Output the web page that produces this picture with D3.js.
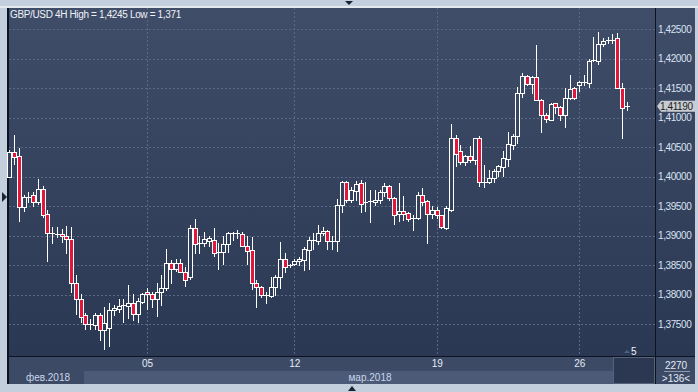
<!DOCTYPE html>
<html>
<head>
<meta charset="utf-8">
<script src="https://cdn.jsdelivr.net/npm/d3@7"></script>
<style>
  body { margin: 0; background: #c4cfdd; }
  svg { display: block; font-family: "Liberation Sans", Arial, sans-serif; }
</style>
</head>
<body>
<div id="chart"></div>
<script>
// GBP/USD 4H candles
const openP = [1.4000,1.4041,1.4035,1.3949,1.3965,1.3968,1.3956,1.3979,1.3936,1.3903,
  1.3903,1.3902,1.3900,1.3894,1.3819,1.3792,1.3765,1.3748,1.3748,1.3765,
  1.3739,1.3744,1.3773,1.3776,1.3780,1.3780,1.3786,1.3767,1.3788,1.3804,
  1.3801,1.3792,1.3805,1.3811,1.3853,1.3844,1.3853,1.3838,1.3829,1.3912,
  1.3886,1.3887,1.3891,1.3892,1.3870,1.3872,1.3886,1.3903,1.3903,1.3903,
  1.3883,1.3875,1.3820,1.3812,1.3798,1.3798,1.3812,1.3830,1.3861,1.3848,
  1.3851,1.3856,1.3859,1.3875,1.3892,1.3890,1.3905,1.3908,1.3890,1.3890,
  1.3952,1.3990,1.3960,1.3976,1.3989,1.3955,1.3956,1.3957,1.3960,1.3973,
  1.3984,1.3963,1.3936,1.3941,1.3938,1.3928,1.3930,1.3968,1.3959,1.3936,
  1.3943,1.3934,1.3913,1.3943,1.4066,1.4043,1.4024,1.4034,1.4028,1.4065,
  1.3990,1.3990,1.3997,1.4010,1.4016,1.4030,1.4053,1.4069,1.4141,1.4170,
  1.4157,1.4168,1.4130,1.4105,1.4096,1.4124,1.4117,1.4105,1.4133,1.4150,
  1.4155,1.4162,1.4159,1.4196,1.4196,1.4224,1.4231,1.4231,1.4234,1.4150,
  1.4117]
const highP = [1.4045,1.4070,1.4048,1.3969,1.3974,1.3974,1.3995,1.3984,1.3943,1.3914,
  1.3914,1.3911,1.3916,1.3914,1.3833,1.3801,1.3769,1.3758,1.3769,1.3769,
  1.3778,1.3786,1.3782,1.3792,1.3792,1.3816,1.3801,1.3794,1.3803,1.3811,
  1.3805,1.3820,1.3833,1.3877,1.3859,1.3860,1.3861,1.3846,1.3918,1.3928,
  1.3899,1.3906,1.3900,1.3912,1.3888,1.3900,1.3906,1.3906,1.3909,1.3906,
  1.3899,1.3898,1.3825,1.3814,1.3805,1.3830,1.3833,1.3889,1.3870,1.3852,
  1.3860,1.3863,1.3880,1.3897,1.3905,1.3918,1.3914,1.3909,1.3899,1.3962,
  1.3993,1.3993,1.3983,1.3992,1.3994,1.3991,1.3977,1.3977,1.3977,1.3989,
  1.3986,1.3966,1.3989,1.3967,1.3940,1.3934,1.3973,1.3981,1.3960,1.3950,
  1.3948,1.3935,1.3950,1.4089,1.4070,1.4053,1.4036,1.4051,1.4066,1.4068,
  1.4020,1.4011,1.4012,1.4020,1.4044,1.4075,1.4072,1.4152,1.4175,1.4172,
  1.4170,1.4223,1.4131,1.4108,1.4124,1.4125,1.4120,1.4150,1.4172,1.4151,
  1.4162,1.4172,1.4200,1.4236,1.4245,1.4234,1.4237,1.4241,1.4243,1.4158,
  1.4127]
const lowP = [1.3999,1.4022,1.3925,1.3942,1.3957,1.3950,1.3954,1.3932,1.3856,1.3888,
  1.3897,1.3889,1.3871,1.3805,1.3767,1.3754,1.3742,1.3741,1.3741,1.3723,
  1.3708,1.3713,1.3765,1.3771,1.3754,1.3760,1.3757,1.3754,1.3785,1.3775,
  1.3779,1.3764,1.3782,1.3808,1.3820,1.3840,1.3838,1.3815,1.3826,1.3871,
  1.3870,1.3882,1.3882,1.3866,1.3844,1.3851,1.3872,1.3892,1.3895,1.3882,
  1.3851,1.3810,1.3778,1.3796,1.3786,1.3795,1.3799,1.3811,1.3838,1.3846,
  1.3850,1.3850,1.3842,1.3843,1.3877,1.3886,1.3901,1.3877,1.3877,1.3873,
  1.3939,1.3957,1.3957,1.3961,1.3940,1.3942,1.3923,1.3952,1.3955,1.3967,
  1.3960,1.3920,1.3925,1.3926,1.3925,1.3909,1.3928,1.3952,1.3888,1.3929,
  1.3929,1.3913,1.3911,1.3942,1.4018,1.4021,1.4020,1.4025,1.4021,1.3984,
  1.3982,1.3989,1.3991,1.4001,1.4001,1.4017,1.4047,1.4056,1.4135,1.4155,
  1.4141,1.4129,1.4076,1.4093,1.4095,1.4108,1.4095,1.4084,1.4131,1.4131,
  1.4145,1.4155,1.4152,1.4195,1.4191,1.4221,1.4227,1.4226,1.4150,1.4066,
  1.4112]
const closeP = [1.4041,1.4033,1.3949,1.3965,1.3966,1.3956,1.3978,1.3935,1.3905,1.3905,
  1.3902,1.3900,1.3894,1.3819,1.3792,1.3762,1.3750,1.3750,1.3765,1.3739,
  1.3752,1.3774,1.3777,1.3780,1.3782,1.3786,1.3767,1.3789,1.3801,1.3801,
  1.3792,1.3805,1.3811,1.3853,1.3844,1.3853,1.3838,1.3824,1.3912,1.3886,
  1.3887,1.3894,1.3895,1.3870,1.3872,1.3886,1.3905,1.3904,1.3904,1.3883,
  1.3874,1.3820,1.3812,1.3799,1.3799,1.3812,1.3829,1.3861,1.3846,1.3850,
  1.3857,1.3860,1.3877,1.3892,1.3893,1.3905,1.3908,1.3890,1.3891,1.3952,
  1.3990,1.3960,1.3977,1.3987,1.3953,1.3956,1.3959,1.3961,1.3973,1.3984,
  1.3963,1.3934,1.3941,1.3936,1.3928,1.3930,1.3968,1.3957,1.3936,1.3943,
  1.3934,1.3914,1.3946,1.4066,1.4038,1.4024,1.4034,1.4028,1.4065,1.3990,
  1.3991,1.3997,1.4010,1.4017,1.4031,1.4055,1.4069,1.4141,1.4170,1.4157,
  1.4168,1.4130,1.4105,1.4097,1.4123,1.4117,1.4105,1.4133,1.4148,1.4133,
  1.4161,1.4160,1.4196,1.4198,1.4224,1.4229,1.4232,1.4232,1.4150,1.4116,
  1.4119]

const priceTicks = [1.375, 1.380, 1.385, 1.390, 1.395, 1.400, 1.405, 1.410, 1.415, 1.420, 1.425]
const weekLabels = ["05", "12", "19", "26"]
const weekIdx = [29, 60, 90, 120]
const monthLabels = ["фев.2018", "мар.2018"]
const lastPrice = 1.4119
const titleText = "GBP/USD 4H High = 1,4245 Low = 1,371"

const W = 698, H = 392
const plot = {left: 9, top: 8, right: 655, bottom: 356}

const ru = d3.formatLocale({decimal: ",", thousands: " ", grouping: [3], currency: ["", ""]})
const fmt = ru.format(".5f")

const svg = d3.select("#chart").append("svg")
  .attr("width", W).attr("height", H)

// background gradient
const defs = svg.append("defs")
const grad = defs.append("linearGradient").attr("id", "bg")
  .attr("gradientUnits", "userSpaceOnUse")
  .attr("x1", 0).attr("y1", plot.top).attr("x2", 0).attr("y2", plot.bottom)
grad.append("stop").attr("offset", "0%").attr("stop-color", "#404d68")
grad.append("stop").attr("offset", "100%").attr("stop-color", "#2b3853")

// frame
svg.append("rect").attr("width", W).attr("height", H).attr("fill", "#c4cfdd")
svg.append("rect").attr("x", 0).attr("y", 6).attr("width", W).attr("height", 2).attr("fill", "#e4e9f0")
svg.append("rect").attr("x", plot.left).attr("y", plot.top)
  .attr("width", 695 - plot.left).attr("height", plot.bottom - plot.top).attr("fill", "url(#bg)")
svg.append("rect").attr("x", 7).attr("y", plot.top).attr("width", 2).attr("height", 384 - plot.top).attr("fill", "#0d1320")

// bottom date strip
svg.append("rect").attr("x", plot.left).attr("y", 357).attr("width", 695 - plot.left).attr("height", 27).attr("fill", "#3c4a66")
svg.append("rect").attr("x", 84).attr("y", 371).attr("width", 529).attr("height", 13).attr("fill", "#4c5a77")
svg.append("rect").attr("x", 613.5).attr("y", 357.5).attr("width", 41).attr("height", 26)
  .attr("fill", "#2c3852").attr("stroke", "#56627a")

// scales
const x = d3.scalePoint().domain(d3.range(openP.length)).range([9.3, 626.7])
const y = d3.scaleLinear().domain([1.375, 1.425]).range([324, 29])
const px = i => Math.round(x(i))
const py = v => Math.round(y(v))

// grid
const grid = svg.append("g").attr("stroke", "#5a6986").attr("stroke-dasharray", "2,2")
grid.selectAll("line.h").data(priceTicks).enter().append("line")
  .attr("x1", plot.left).attr("x2", plot.right)
  .attr("y1", d => py(d) + 0.5).attr("y2", d => py(d) + 0.5)
grid.selectAll("line.v").data(weekIdx).enter().append("line")
  .attr("y1", plot.top).attr("y2", plot.bottom)
  .attr("x1", d => px(d) + 0.5).attr("x2", d => px(d) + 0.5)

// candles
const candles = d3.range(openP.length).map(i => ({
  i: i, o: openP[i], h: highP[i], l: lowP[i], c: closeP[i]
}))
const g = svg.append("g")
g.selectAll("line.wick").data(candles).enter().append("line")
  .attr("x1", d => px(d.i) + 0.5).attr("x2", d => px(d.i) + 0.5)
  .attr("y1", d => py(d.h)).attr("y2", d => py(d.l) + 1)
  .attr("stroke", "#fff")
const bodies = candles.filter(d => Math.abs(py(d.o) - py(d.c)) >= 2)
const dojis = candles.filter(d => Math.abs(py(d.o) - py(d.c)) < 2)
g.selectAll("rect.body").data(bodies).enter().append("rect")
  .attr("x", d => px(d.i) - 1.5).attr("width", 4)
  .attr("y", d => py(Math.max(d.o, d.c)) + 0.5)
  .attr("height", d => Math.abs(py(d.o) - py(d.c)))
  .attr("fill", d => d.c < d.o ? "#e3163c" : "url(#bg)")
  .attr("stroke", "#fff")
g.selectAll("line.doji").data(dojis).enter().append("line")
  .attr("x1", d => px(d.i) - 2).attr("x2", d => px(d.i) + 3)
  .attr("y1", d => py(d.c) + 0.5).attr("y2", d => py(d.c) + 0.5)
  .attr("stroke", "#fff")

// axis lines
svg.append("line").attr("x1", plot.left).attr("x2", 695).attr("y1", 356.5).attr("y2", 356.5).attr("stroke", "#0d1320")
svg.append("line").attr("x1", 655.5).attr("x2", 655.5).attr("y1", plot.top).attr("y2", 384).attr("stroke", "#0d1320")

// price axis
const yAxis = svg.append("g").attr("transform", "translate(657,0)")
  .call(d3.axisRight(y).tickValues(priceTicks).tickSize(0).tickPadding(1).tickFormat(fmt))
yAxis.select(".domain").remove()
yAxis.selectAll("text").attr("fill", "#d9e3f2").attr("font-size", 10)
  .attr("letter-spacing", -0.4).attr("font-family", "Liberation Sans, Arial")

// last price tag
const ly = y(lastPrice)
svg.append("path")
  .attr("d", `M657,${ly} L661,${ly - 5.5} L695,${ly - 5.5} L695,${ly + 5.5} L661,${ly + 5.5} Z`)
  .attr("fill", "#c9ccd1")
svg.append("text").attr("x", 660).attr("y", ly + 3.5).attr("letter-spacing", -0.4)
  .attr("font-size", 10).attr("fill", "#1a1d24").text(fmt(lastPrice))

// week axis
const xAxis = svg.append("g").attr("transform", "translate(0,358)")
  .call(d3.axisBottom(x).tickValues(weekIdx).tickSize(0).tickPadding(2).tickFormat((d, k) => weekLabels[k]))
xAxis.select(".domain").remove()
xAxis.selectAll("text").attr("fill", "#e3eaf5").attr("font-size", 10).attr("font-family", "Liberation Sans, Arial")

// month labels
svg.append("text").attr("x", 48).attr("y", 381).attr("text-anchor", "middle")
  .attr("font-size", 10).attr("fill", "#c9d6ea").text(monthLabels[0])
svg.append("text").attr("x", 370).attr("y", 381).attr("text-anchor", "middle")
  .attr("font-size", 10).attr("fill", "#c9d6ea").text(monthLabels[1])

// title
svg.append("text").attr("x", 10).attr("y", 18).attr("font-size", 10)
  .attr("letter-spacing", -0.35).attr("fill", "#eef2f8").text(titleText)

// bar counter box
svg.append("text").attr("x", 676).attr("y", 369).attr("text-anchor", "middle")
  .attr("font-size", 10).attr("fill", "#e3eaf5").text("2270")
svg.append("line").attr("x1", 664).attr("x2", 690).attr("y1", 371.5).attr("y2", 371.5).attr("stroke", "#8d99ad")
svg.append("text").attr("x", 676).attr("y", 382).attr("text-anchor", "middle")
  .attr("font-size", 10).attr("fill", "#e3eaf5").text(">136<")

// scroll marker
svg.append("path").attr("d", "M624,353 L627,350 L630,353 Z").attr("fill", "#56627a")
svg.append("text").attr("x", 631).attr("y", 355).attr("font-size", 10).attr("fill", "#eef2f8").text("5")

// small arrows on the frame
svg.append("path").attr("d", "M345,1 L353,1 L349,5 Z").attr("fill", "#1b2233")
svg.append("path").attr("d", "M348,391 L356,391 L352,386 Z").attr("fill", "#1b2233")
svg.append("path").attr("d", "M2,192 L7,197 L2,202 Z").attr("fill", "#1b2233")
</script>
</body>
</html>
